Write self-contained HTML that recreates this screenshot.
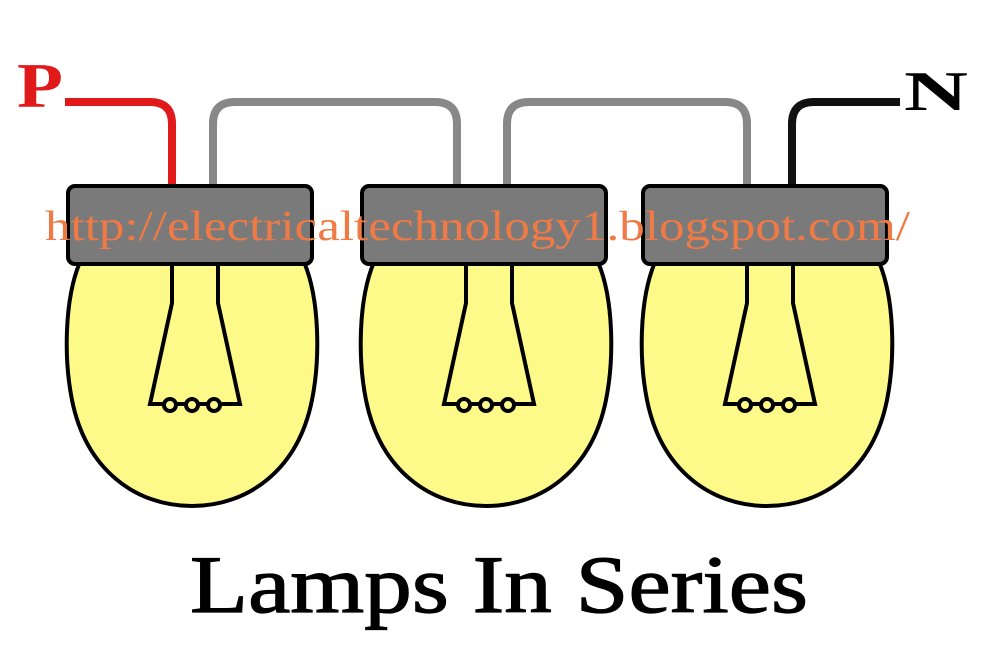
<!DOCTYPE html>
<html><head><style>html,body{margin:0;padding:0;background:#fff}svg{display:block}</style></head>
<body>
<svg width="986" height="671" viewBox="0 0 986 671" xmlns="http://www.w3.org/2000/svg">
<rect width="986" height="671" fill="#fff"/>
<g fill="none" stroke-width="8">
<path d="M65 102 H150 Q172 102 172 124 V188" stroke="#e0191b"/>
<path d="M213 188 V124 Q213 102 235 102 H435 Q457 102 457 124 V188" stroke="#888"/>
<path d="M507 188 V124 Q507 102 529 102 H725 Q747 102 747 124 V188" stroke="#888"/>
<path d="M792 188 V124 Q792 102 814 102 H900" stroke="#111"/>
</g>
<g stroke="#000" stroke-width="4">
<g id="b">
<path d="M80 262 C64 300 64 360 72 400 C86 470 136 506 192 506 C248 506 298 470 312 400 C320 360 320 300 304 262 Z" fill="#fdfa8a"/>
<rect x="68" y="186" width="244" height="78" rx="7" fill="#7a7a7a"/>
<path d="M172 264 V303 L150 404 H240 L218 303 V264" fill="none"/>
<circle cx="170" cy="405" r="6" fill="#fdfa8a"/>
<circle cx="192" cy="405" r="6" fill="#fdfa8a"/>
<circle cx="214" cy="405" r="6" fill="#fdfa8a"/>
</g>
<use href="#b" x="294"/>
<use href="#b" x="575"/>
</g>
<text x="17" y="107" font-family="'Liberation Serif', serif" font-weight="bold" font-size="64" fill="#e0191b" textLength="46" lengthAdjust="spacingAndGlyphs">P</text>
<text x="904" y="110" font-family="'Liberation Serif', serif" font-weight="bold" font-size="56" fill="#000" textLength="64" lengthAdjust="spacingAndGlyphs">N</text>
<text x="45" y="240" font-family="'Liberation Serif', serif" font-size="42" fill="#f07a45" textLength="865" lengthAdjust="spacingAndGlyphs">http://electricaltechnology1.blogspot.com/</text>
<text x="190" y="612" font-family="'Liberation Serif', serif" font-size="82" fill="#000" stroke="#000" stroke-width="1.2" textLength="618" lengthAdjust="spacingAndGlyphs">Lamps In Series</text>
</svg>
</body></html>
